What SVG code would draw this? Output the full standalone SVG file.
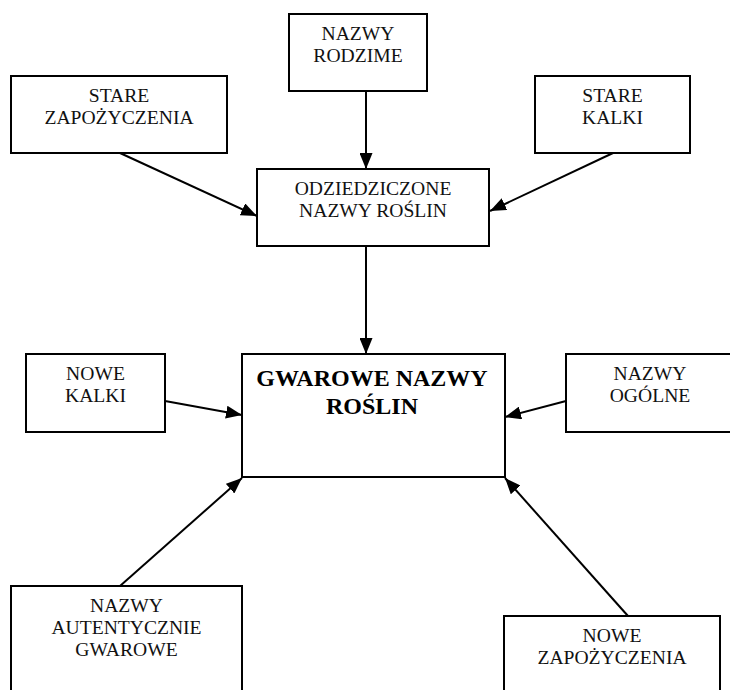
<svg xmlns="http://www.w3.org/2000/svg" width="730" height="690" viewBox="0 0 730 690">
  <style>
    .box { fill: #ffffff; stroke: #000000; stroke-width: 2; }
    .t { font-family: "Liberation Serif", "Times New Roman", serif; font-size: 19.6px; fill: #111111; text-anchor: middle; }
    .tb { font-family: "Liberation Serif", "Times New Roman", serif; font-size: 24px; font-weight: bold; fill: #000000; text-anchor: middle; }
    .edge { stroke: #000000; stroke-width: 2; fill: none; marker-end: url(#arrow); }
  </style>
  <defs>
    <marker id="arrow" markerUnits="userSpaceOnUse" markerWidth="17" markerHeight="13" refX="16" refY="6.5" orient="auto">
      <path d="M0,0 L16,6.5 L0,13 Z" fill="#000000"/>
    </marker>
  </defs>
  <rect width="730" height="690" fill="#ffffff"/>

  <g id="connectors">
    <line class="edge" x1="366" y1="91" x2="366" y2="169"/>
    <line class="edge" x1="120" y1="153" x2="257" y2="216"/>
    <line class="edge" x1="613" y1="153" x2="490" y2="211"/>
    <line class="edge" x1="366" y1="246" x2="366" y2="354"/>
    <line class="edge" x1="165" y1="401" x2="242" y2="415"/>
    <line class="edge" x1="566" y1="401" x2="505" y2="417"/>
    <line class="edge" x1="120" y1="586" x2="242" y2="478"/>
    <line class="edge" x1="628" y1="616" x2="505" y2="478"/>
  </g>

  <g id="nazwy-rodzime">
    <rect class="box" x="289" y="14" width="138" height="77"/>
    <text class="t" x="358" y="40">NAZWY</text>
    <text class="t" x="358" y="62">RODZIME</text>
  </g>

  <g id="stare-zapozyczenia">
    <rect class="box" x="11" y="76" width="216" height="77"/>
    <text class="t" x="119" y="102">STARE</text>
    <text class="t" x="119" y="124">ZAPOŻYCZENIA</text>
  </g>

  <g id="stare-kalki">
    <rect class="box" x="535" y="76" width="155" height="77"/>
    <text class="t" x="612.5" y="102">STARE</text>
    <text class="t" x="612.5" y="124">KALKI</text>
  </g>

  <g id="odziedziczone">
    <rect class="box" x="257" y="169" width="232" height="77"/>
    <text class="t" x="373" y="195">ODZIEDZICZONE</text>
    <text class="t" x="373" y="217">NAZWY ROŚLIN</text>
  </g>

  <g id="gwarowe">
    <rect class="box" x="242" y="354" width="263" height="123"/>
    <text class="tb" x="372" y="386">GWAROWE NAZWY</text>
    <text class="tb" x="372" y="414">ROŚLIN</text>
  </g>

  <g id="nowe-kalki">
    <rect class="box" x="26" y="354" width="139" height="78"/>
    <text class="t" x="95.5" y="380">NOWE</text>
    <text class="t" x="95.5" y="402">KALKI</text>
  </g>

  <g id="nazwy-ogolne">
    <rect class="box" x="566" y="354" width="168" height="78"/>
    <text class="t" x="650" y="380">NAZWY</text>
    <text class="t" x="650" y="402">OGÓLNE</text>
  </g>

  <g id="nazwy-autentycznie">
    <rect class="box" x="11" y="586" width="231" height="110"/>
    <text class="t" x="126.5" y="612">NAZWY</text>
    <text class="t" x="126.5" y="634">AUTENTYCZNIE</text>
    <text class="t" x="126.5" y="656">GWAROWE</text>
  </g>

  <g id="nowe-zapozyczenia">
    <rect class="box" x="504" y="616" width="216" height="80"/>
    <text class="t" x="612" y="642">NOWE</text>
    <text class="t" x="612" y="664">ZAPOŻYCZENIA</text>
  </g>
</svg>
